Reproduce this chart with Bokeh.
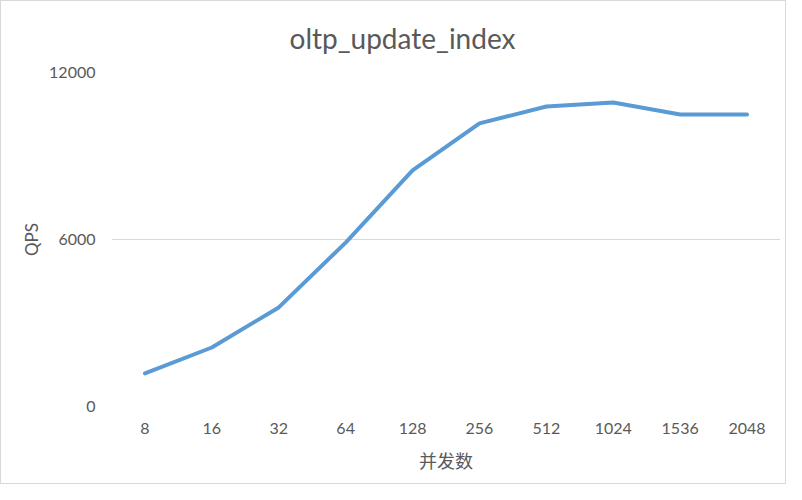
from bokeh.plotting import figure
from bokeh.embed import file_html
from bokeh.resources import INLINE
from bokeh.models import FixedTicker, ColumnDataSource

categories = ["8", "16", "32", "64", "128", "256", "512", "1024", "1536", "2048"]
qps = [1190, 2120, 3560, 5890, 8480, 10170, 10780, 10920, 10490, 10490]
y_ticks = [0, 6000, 12000]
title_text = "oltp_update_index"

FONT = "Lato"
TXT = "#595959"

src = ColumnDataSource(dict(x=categories, y=qps))

p = figure(width=786, height=484, x_range=categories, y_range=(0, 12000),
           output_backend="svg", toolbar_location=None,
           min_border_left=111, min_border_right=6, min_border_top=72, min_border_bottom=78)
p.styles = {"box-shadow": "inset 0 0 0 1px #d9d9d9", "background": "white"}
p.outline_line_color = None
p.background_fill_color = None
p.border_fill_color = None

p.title.text = title_text
p.title.align = "left"
p.title.offset = 178
p.title.text_font = FONT
p.title.text_font_size = "28px"
p.title.text_font_style = "normal"
p.title.text_color = TXT
p.title.standoff = 36

p.line("x", "y", source=src, line_color="#5b9bd5", line_width=4, line_join="round", line_cap="round")

p.xgrid.grid_line_color = None
p.ygrid.grid_line_color = "#d9d9d9"
p.ygrid.grid_line_width = 1
p.yaxis.ticker = FixedTicker(ticks=y_ticks)

for ax in (p.xaxis, p.yaxis):
    ax.axis_line_color = None
    ax.major_tick_line_color = None
    ax.minor_tick_line_color = None
    ax.major_label_text_font = FONT
    ax.major_label_text_font_size = "16px"
    ax.major_label_text_color = TXT
    ax.axis_label_text_font = "Noto Sans CJK SC"
    ax.axis_label_text_font_size = "18px"
    ax.axis_label_text_font_style = "normal"
    ax.axis_label_text_color = TXT

p.xaxis.axis_label = "并发数"
p.yaxis.axis_label = "QPS"
p.yaxis.axis_label_text_font = FONT
p.yaxis.axis_label_text_font_size = "17px"
p.xaxis.major_label_standoff = 10
p.yaxis.major_label_standoff = 10
p.xaxis.axis_label_standoff = 10
p.yaxis.axis_label_standoff = 4

open("out.html", "w").write(file_html(p, INLINE))
